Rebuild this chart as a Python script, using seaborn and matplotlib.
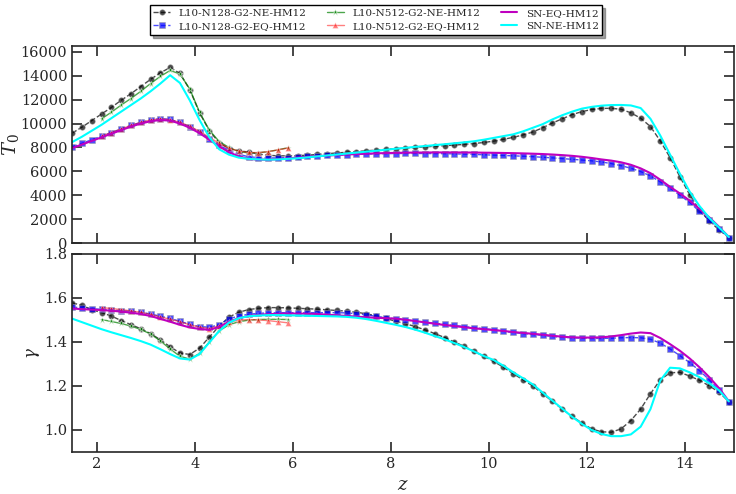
import matplotlib
matplotlib.use("Agg")
import matplotlib.pyplot as plt
import seaborn as sns

sns.set_style("ticks")
plt.rcParams['font.family'] = ['DejaVu Serif']
plt.rcParams['mathtext.fontset'] = 'dejavuserif'

# redshift grids
z_full = [1.5, 1.7, 1.9, 2.1, 2.3, 2.5, 2.7, 2.9, 3.1, 3.3,
          3.5, 3.7, 3.9, 4.1, 4.3, 4.5, 4.7, 4.9, 5.1, 5.3,
          5.5, 5.7, 5.9, 6.1, 6.3, 6.5, 6.7, 6.9, 7.1, 7.3,
          7.5, 7.7, 7.9, 8.1, 8.3, 8.5, 8.7, 8.9, 9.1, 9.3,
          9.5, 9.7, 9.9, 10.1, 10.3, 10.5, 10.7, 10.9, 11.1, 11.3,
          11.5, 11.7, 11.9, 12.1, 12.3, 12.5, 12.7, 12.9, 13.1, 13.3,
          13.5, 13.7, 13.9, 14.1, 14.3, 14.5, 14.7, 14.9]
z_n512 = [2.1, 2.3, 2.5, 2.7, 2.9, 3.1, 3.3, 3.5, 3.7, 3.9,
          4.1, 4.3, 4.5, 4.7, 4.9, 5.1, 5.3, 5.5, 5.7, 5.9]

# T0 values
t0_n128_ne = [9200, 9700, 10250, 10800, 11350, 11950, 12500, 13100, 13700, 14250,
              14700, 14200, 12850, 10900, 9400, 8400, 7900, 7720, 7620, 7450,
              7350, 7300, 7300, 7320, 7350, 7420, 7480, 7540, 7600, 7660,
              7720, 7780, 7840, 7900, 7950, 8000, 8050, 8100, 8150, 8200,
              8260, 8330, 8420, 8530, 8680, 8850, 9050, 9300, 9650, 10050,
              10400, 10750, 11000, 11180, 11270, 11280, 11200, 10900, 10450, 9750,
              8550, 7150, 5550, 4050, 2750, 1850, 1100, 450]
t0_n128_eq = [8050, 8350, 8650, 8950, 9250, 9550, 9850, 10100, 10300, 10420,
              10350, 10100, 9750, 9300, 8750, 8200, 7750, 7420, 7230, 7150,
              7120, 7130, 7160, 7200, 7250, 7290, 7330, 7370, 7400, 7430,
              7450, 7470, 7485, 7495, 7500, 7500, 7495, 7490, 7480, 7465,
              7445, 7420, 7390, 7360, 7330, 7300, 7270, 7230, 7180, 7130,
              7070, 7010, 6950, 6880, 6790, 6650, 6480, 6260, 5980, 5620,
              5120, 4580, 4000, 3400, 2650, 1950, 1200, 450]
t0_n512_ne = [10400, 10950, 11550, 12100, 12700, 13350, 13950, 14450, 14150, 12900,
              10950, 9450, 8500, 8000, 7650, 7550, 7560, 7650, 7800, 7980]
t0_n512_eq = [8950, 9250, 9550, 9850, 10100, 10300, 10400, 10330, 10100, 9780,
              9350, 8850, 8350, 7950, 7700, 7580, 7570, 7650, 7800, 7950]
t0_sn_eq = [7950, 8250, 8550, 8850, 9150, 9450, 9750, 10000, 10200, 10300,
            10250, 10000, 9650, 9200, 8650, 8100, 7600, 7250, 7050, 6980,
            6980, 7020, 7080, 7150, 7210, 7270, 7320, 7370, 7410, 7450,
            7480, 7510, 7530, 7550, 7565, 7575, 7580, 7585, 7585, 7585,
            7580, 7575, 7565, 7555, 7540, 7525, 7505, 7480, 7450, 7410,
            7360, 7300, 7220, 7120, 7000, 6900, 6760, 6550, 6250, 5850,
            5300, 4700, 4150, 3550, 2850, 2150, 1350, 500]
t0_sn_ne = [8450, 8900, 9400, 9900, 10450, 11000, 11550, 12100, 12700, 13350,
            14050, 13400, 11950, 10300, 8850, 7850, 7400, 7150, 7050, 7000,
            6980, 7000, 7050, 7100, 7170, 7250, 7330, 7410, 7490, 7570,
            7650, 7730, 7810, 7890, 7970, 8050, 8120, 8200, 8270, 8350,
            8430, 8520, 8650, 8800, 8950, 9100, 9350, 9650, 9950, 10350,
            10700, 11000, 11250, 11400, 11500, 11550, 11560, 11520, 11300, 10400,
            9000, 7400, 5800, 4300, 3100, 2100, 1300, 500]

# gamma values
g_n128_ne = [1.578, 1.566, 1.547, 1.533, 1.518, 1.497, 1.479, 1.460, 1.438, 1.410,
             1.378, 1.350, 1.343, 1.372, 1.422, 1.472, 1.513, 1.535, 1.547, 1.553,
             1.556, 1.556, 1.555, 1.553, 1.551, 1.549, 1.546, 1.543, 1.540, 1.535,
             1.528, 1.519, 1.507, 1.494, 1.483, 1.470, 1.455, 1.438, 1.420, 1.400,
             1.380, 1.358, 1.335, 1.312, 1.285, 1.256, 1.228, 1.200, 1.165, 1.130,
             1.095, 1.062, 1.032, 1.005, 0.992, 0.990, 1.005, 1.043, 1.095, 1.165,
             1.228, 1.260, 1.262, 1.245, 1.226, 1.200, 1.172, 1.128]
g_n128_eq = [1.559, 1.555, 1.551, 1.548, 1.545, 1.542, 1.539, 1.535, 1.527, 1.517,
             1.507, 1.494, 1.480, 1.470, 1.467, 1.478, 1.505, 1.518, 1.526, 1.530,
             1.532, 1.533, 1.533, 1.533, 1.533, 1.533, 1.533, 1.533, 1.532, 1.528,
             1.523, 1.517, 1.510, 1.505, 1.500, 1.495, 1.490, 1.485, 1.480, 1.475,
             1.470, 1.465, 1.460, 1.456, 1.448, 1.443, 1.438, 1.434, 1.430, 1.425,
             1.421, 1.419, 1.417, 1.416, 1.416, 1.417, 1.419, 1.420, 1.419, 1.412,
             1.395, 1.368, 1.338, 1.306, 1.270, 1.228, 1.182, 1.128]
g_n512_ne = [1.502, 1.493, 1.484, 1.472, 1.457, 1.436, 1.405, 1.368, 1.335, 1.322,
             1.348, 1.400, 1.450, 1.478, 1.492, 1.499, 1.502, 1.503, 1.503, 1.502]
g_n512_eq = [1.556, 1.552, 1.547, 1.541, 1.535, 1.525, 1.514, 1.503, 1.492, 1.478,
             1.467, 1.461, 1.473, 1.490, 1.499, 1.502, 1.500, 1.497, 1.492, 1.487]
g_sn_eq = [1.552, 1.549, 1.547, 1.545, 1.542, 1.538, 1.533, 1.527, 1.518, 1.505,
           1.492, 1.478, 1.466, 1.459, 1.455, 1.468, 1.492, 1.508, 1.518, 1.523,
           1.526, 1.528, 1.529, 1.529, 1.528, 1.527, 1.524, 1.521, 1.518, 1.515,
           1.512, 1.510, 1.508, 1.506, 1.501, 1.495, 1.489, 1.483, 1.477, 1.472,
           1.467, 1.462, 1.458, 1.454, 1.450, 1.445, 1.441, 1.437, 1.433, 1.428,
           1.424, 1.421, 1.420, 1.420, 1.421, 1.425, 1.431, 1.438, 1.443, 1.440,
           1.418, 1.390, 1.360, 1.325, 1.285, 1.240, 1.190, 1.130]
g_sn_ne = [1.506, 1.490, 1.474, 1.458, 1.444, 1.431, 1.418, 1.404, 1.388, 1.367,
           1.345, 1.325, 1.320, 1.345, 1.398, 1.450, 1.488, 1.508, 1.517, 1.520,
           1.522, 1.522, 1.521, 1.520, 1.519, 1.518, 1.517, 1.516, 1.514, 1.510,
           1.504, 1.496, 1.487, 1.478, 1.468, 1.456, 1.442, 1.427, 1.412, 1.395,
           1.377, 1.357, 1.336, 1.318, 1.292, 1.262, 1.235, 1.207, 1.170, 1.133,
           1.097, 1.060, 1.028, 1.000, 0.982, 0.972, 0.972, 0.980, 1.015, 1.095,
           1.225, 1.283, 1.280, 1.262, 1.240, 1.212, 1.180, 1.130]

fig = plt.figure(figsize=(7.36, 4.94), dpi=100)
ax1 = fig.add_axes([0.098, 0.508, 0.899, 0.399])
ax2 = fig.add_axes([0.098, 0.085, 0.899, 0.401])


def draw(ax, vals):
    n128_ne, n128_eq, n512_ne, n512_eq, sn_eq, sn_ne = vals
    sns.lineplot(x=z_full, y=n128_ne, ax=ax, color='k', marker='o', ms=4,
                 linestyle='--', lw=1, alpha=0.7, mec='0.6', mew=0.5,
                 label='L10-N128-G2-NE-HM12')
    sns.lineplot(x=z_full, y=n128_eq, ax=ax, color='b', marker='s', ms=4,
                 linestyle='--', lw=1, alpha=0.7, mec='0.6', mew=0.5,
                 label='L10-N128-G2-EQ-HM12')
    sns.lineplot(x=z_n512, y=n512_ne, ax=ax, color='g', marker='*', ms=5,
                 linestyle='-', lw=1, alpha=0.7, mew=0.5,
                 label='L10-N512-G2-NE-HM12')
    sns.lineplot(x=z_n512, y=n512_eq, ax=ax, color='r', marker='^', ms=4,
                 linestyle='-', lw=1, alpha=0.5, mew=0.5,
                 label='L10-N512-G2-EQ-HM12')
    sns.lineplot(x=z_full, y=sn_eq, ax=ax, color='m', lw=1.5,
                 label='SN-EQ-HM12')
    sns.lineplot(x=z_full, y=sn_ne, ax=ax, color='cyan', lw=1.5,
                 label='SN-NE-HM12')


draw(ax1, [t0_n128_ne, t0_n128_eq, t0_n512_ne, t0_n512_eq, t0_sn_eq, t0_sn_ne])
draw(ax2, [g_n128_ne, g_n128_eq, g_n512_ne, g_n512_eq, g_sn_eq, g_sn_ne])

handles, labels = ax1.get_legend_handles_labels()
for ax in (ax1, ax2):
    ax.get_legend().remove()
    ax.set_xlim(1.5, 15.0)
    ax.set_xticks([2, 4, 6, 8, 10, 12, 14])
    ax.tick_params(direction='in', length=7, width=1.2, top=True, right=True,
                   labelsize=10.5)
    for s in ax.spines.values():
        s.set_linewidth(1.2)

ax1.set_ylim(0, 16500)
ax1.set_yticks(range(0, 16001, 2000))
ax1.tick_params(labelbottom=False)
ax1.set_ylabel('$T_0$', fontsize=14)
ax1.yaxis.set_label_coords(-0.078, 0.5)

ax2.set_ylim(0.9, 1.8)
ax2.set_yticks([1.0, 1.2, 1.4, 1.6, 1.8])
ax2.set_ylabel(r'$\gamma$', fontsize=12)
ax2.yaxis.set_label_coords(-0.046, 0.5)
ax2.set_xlabel('$z$', fontsize=13)

fig.legend(handles, labels, loc='upper center', bbox_to_anchor=(0.511, 1.0),
           ncol=3, fontsize=7.5, fancybox=False, shadow=True, edgecolor='k',
           handlelength=1.6, columnspacing=2.0, borderpad=0.35, labelspacing=0.35)

fig.savefig('out.png', dpi=100)
